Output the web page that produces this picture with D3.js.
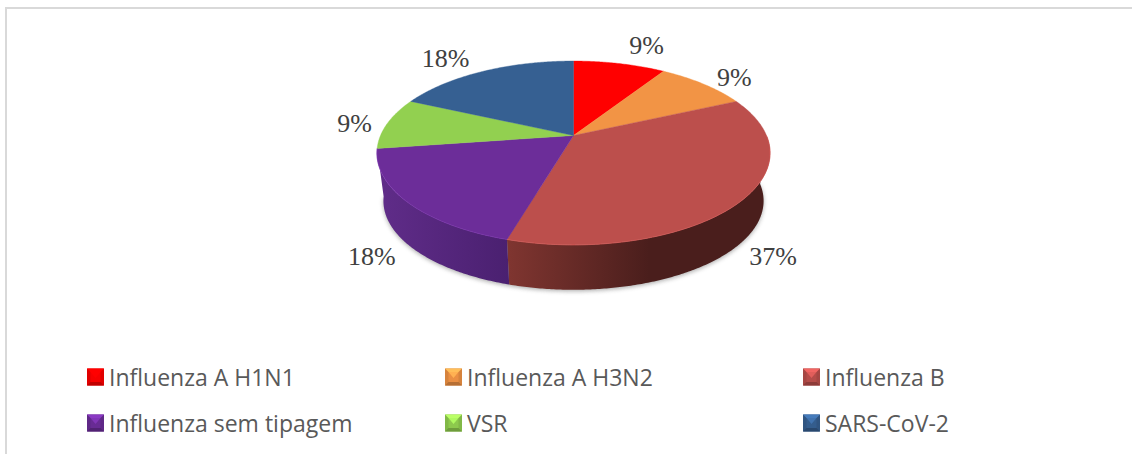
<!DOCTYPE html>
<html>
<head>
<meta charset="utf-8">
<script src="https://cdn.jsdelivr.net/npm/d3@7/dist/d3.min.js"></script>
<style>
html,body{margin:0;padding:0;background:#fff;overflow:hidden}
svg{display:block}
</style>
</head>
<body>
<svg id="chart" width="1132" height="454"></svg>
<script>
const categories = ["Influenza A H1N1","Influenza A H3N2","Influenza B","Influenza sem tipagem","VSR","SARS-CoV-2"];
const shares = [9.09,9.09,36.36,18.18,9.09,18.18];
const shareLabels = ["9%","9%","37%","18%","9%","18%"];
const colors = ["#ff0000","#f29445","#bc4f4c","#6c2d99","#92d050","#366092"];
const wallFrom = {"Influenza B":"#7f3530","Influenza sem tipagem":"#5f2c88"};
const wallTo = {"Influenza B":"#4a1e1c","Influenza sem tipagem":"#4a2070"};

const W = 1132, H = 454;
const svg = d3.select("#chart");
const defs = svg.append("defs");

// frame
svg.append("path").attr("d",`M6,${H}V8H${W}`).attr("fill","none").attr("stroke","#d9d9d9").attr("stroke-width",2);

// perspective view of a circular disc
const cx = 573.5, cy = 135.5, R = 193, K = 88.6, P = 0.19;
function project(a, scale, y0){
  const u = Math.sin(a), v = -Math.cos(a), w = 1 - P*v;
  return [cx + scale*R*u/w, y0 + scale*K*v/w];
}
const topRim = a => project(a, 1, cy);
const bottomRim = a => project(a, 0.967, 184);
const line = d3.line();
const arcAngles = (a0,a1) => {
  const n = Math.max(2, Math.ceil((a1-a0)/0.01));
  return d3.range(n+1).map(i => a0 + (a1-a0)*i/n);
};

const pie = d3.pie().sort(null).value(d => d.share);
const slices = pie(categories.map((name,i)=>({name,share:shares[i],color:colors[i],label:shareLabels[i]})));
const walled = slices.filter(s => wallFrom[s.data.name]);

// drop shadow
defs.append("filter").attr("id","soft").attr("x","-10%").attr("y","-10%").attr("width","120%").attr("height","130%")
  .append("feGaussianBlur").attr("stdDeviation",2);
const shadowEnd = d3.max(walled, s => s.endAngle);
svg.append("path")
  .attr("d", line(arcAngles(Math.PI/2, shadowEnd).map(bottomRim)))
  .attr("fill","#8c8c8c").attr("opacity",0.7).attr("filter","url(#soft)")
  .attr("transform","translate(0,1.5)");

// side walls of the front half
const FRONT0 = Math.PI*0.5;
walled.forEach((s,i)=>{
  const a0 = Math.max(s.startAngle,FRONT0), a1 = s.endAngle;
  const pts = arcAngles(a0,a1);
  const xs = pts.map(a=>bottomRim(a)[0]);
  const gid = "wall"+i;
  const name = s.data.name;
  const grad = defs.append("linearGradient").attr("id",gid).attr("gradientUnits","userSpaceOnUse")
    .attr("y1",0).attr("y2",0)
    .attr("x1",d3.min(xs))
    .attr("x2",name === "Influenza B" ? d3.min(xs)+140 : d3.max(xs));
  grad.append("stop").attr("offset",0).attr("stop-color",wallFrom[name]);
  grad.append("stop").attr("offset",1).attr("stop-color",wallTo[name]);
  const poly = pts.map(topRim).concat(pts.slice().reverse().map(bottomRim));
  svg.append("path").attr("d",line(poly)+"Z").attr("fill",`url(#${gid})`);
});

// top faces
slices.forEach(s=>{
  const poly = [[cx,cy]].concat(arcAngles(s.startAngle,s.endAngle).map(topRim));
  svg.append("path").attr("d",line(poly)+"Z").attr("fill",s.data.color)
    .attr("stroke",s.data.color).attr("stroke-width",0.4);
});
// bevel highlight on the front rim
walled.forEach(s=>{
  const a0 = Math.max(s.startAngle,FRONT0), a1 = s.endAngle;
  svg.append("path").attr("d",line(arcAngles(a0,a1).map(topRim))).attr("fill","none")
    .attr("stroke", d3.color(s.data.color).brighter(0.5)).attr("stroke-width",1).attr("opacity",0.55);
});

// percentage labels
const labelNudge = [[27,-18],[31,-6],[33,55],[-35,55],[-33,0.6],[-38,-13]];
svg.append("g").selectAll("text").data(slices).join("text")
  .attr("x",(d,i)=>topRim((d.startAngle+d.endAngle)/2)[0]+labelNudge[i][0])
  .attr("y",(d,i)=>topRim((d.startAngle+d.endAngle)/2)[1]+labelNudge[i][1])
  .attr("text-anchor","middle").attr("dominant-baseline","central")
  .attr("font-family","'Liberation Serif',serif").attr("font-size",26).attr("fill","#404040")
  .text(d=>d.data.label);

// legend
const legendX = d3.scalePoint().domain([0,1,2]).range([87,803]);
const legendY = d3.scalePoint().domain([0,1]).range([377,423]);
const rows = 3, sw = 17;
const items = svg.append("g").selectAll("g").data(slices).join("g")
  .attr("transform",(d,i)=>`translate(${legendX(i%rows)},${legendY(Math.floor(i/rows))})`);
items.each(function(d){
  const g = d3.select(this), c = d3.color(d.data.color), h = sw/2, m = 3.5;
  const inner = [[-h+m,-h+m],[h-m,-h+m],[h-m,h-m],[-h+m,h-m]];
  const t = g.append("g").attr("transform",`translate(${h},0)`);
  t.append("rect").attr("x",-h).attr("y",-h).attr("width",sw).attr("height",sw).attr("fill",c.darker(0.35));
  t.append("path").attr("d",line([[-h,-h],[h,-h],[h-m,-h+m],[-h+m,-h+m]])+"Z").attr("fill",c.brighter(0.7));
  t.append("path").attr("d",line(inner)+"Z").attr("fill",c.darker(0.1));
  t.append("path").attr("d",line([[-h+m,-h+m],[h-m,-h+m],[0,1]])+"Z").attr("fill",c.brighter(0.5));
  t.append("path").attr("d",line([[-h,h],[h,h],[h-m,h-m],[-h+m,h-m]])+"Z").attr("fill",c.darker(0.8));
});
items.append("text").attr("x",22).attr("y",0).attr("dominant-baseline","central")
  .attr("font-family","'Open Sans',sans-serif").attr("font-size",23).attr("fill","#595959")
  .text(d=>d.data.name);
</script>
</body>
</html>
